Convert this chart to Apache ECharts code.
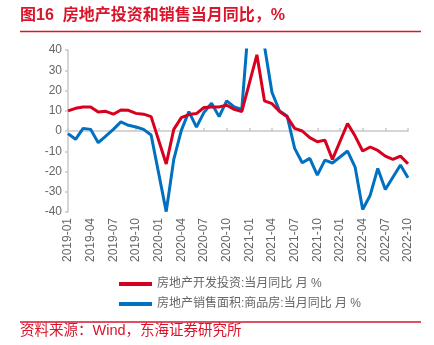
<!DOCTYPE html>
<html><head><meta charset="utf-8">
<script src="https://cdn.jsdelivr.net/npm/echarts@6/dist/echarts.min.js"></script>
<style>html,body{margin:0;padding:0;background:#fff}#c{width:434px;height:345px}</style>
</head><body><div id="c"></div>
<script>
const months = ["2019-01","2019-02","2019-03","2019-04","2019-05","2019-06","2019-07","2019-08","2019-09","2019-10","2019-11","2019-12",
"2020-01","2020-02","2020-03","2020-04","2020-05","2020-06","2020-07","2020-08","2020-09","2020-10","2020-11","2020-12",
"2021-01","2021-02","2021-03","2021-04","2021-05","2021-06","2021-07","2021-08","2021-09","2021-10","2021-11","2021-12",
"2022-01","2022-02","2022-03","2022-04","2022-05","2022-06","2022-07","2022-08","2022-09","2022-10"];
const investYoY = [9.9,11.2,11.9,11.9,9.4,9.7,8.3,10.4,10.2,8.7,8.3,7.1,
null,-16.3,0.8,6.6,8.1,8.6,11.6,11.9,11.9,12.7,10.7,9.6,
null,37.6,14.9,13.5,9.6,7.0,1.3,0.0,-3.3,-5.3,-4.5,-14.0,
null,3.7,-2.5,-9.9,-7.9,-9.6,-12.4,-14.0,-12.4,-16.2];
const salesAreaYoY = [-1.3,-4.1,1.3,0.8,-5.8,-2.5,0.8,4.5,2.8,2.0,0.8,-2.0,
null,-39.8,-14.0,0.3,9.6,1.9,9.2,13.7,7.1,14.9,11.9,10.7,
null,104.9,42.0,19.0,9.9,7.4,-8.6,-15.7,-13.5,-21.8,-14.4,-15.8,
null,-9.9,-17.8,-38.8,-31.7,-18.5,-28.9,-22.8,-16.8,-23.1];
const seriesNames = ["房地产开发投资:当月同比 月 %","房地产销售面积:商品房:当月同比 月 %"];
const titleText = "图16  房地产投资和销售当月同比，%";
const sourceText = "资料来源：Wind，东海证券研究所";

const RED = "#D7001E", BLUE = "#0070C0", TRED = "#D9142B";
const FONT = "'Liberation Sans','Noto Sans CJK SC',sans-serif";
const chart = echarts.init(document.getElementById('c'), null, {renderer:'canvas'});
chart.setOption({
  animation:false,
  textStyle:{fontFamily:FONT},
  grid:{left:68,right:26,top:50,bottom:133},
  xAxis:[{
    type:'category', data:months, boundaryGap:false, position:'bottom',
    axisLine:{show:false, onZero:false}, axisTick:{show:false},
    axisLabel:{rotate:90, interval:2, color:'#666666', fontSize:12, margin:6, fontFamily:FONT}
  },{
    type:'category', data:months, boundaryGap:false,
    axisLine:{show:true, onZero:true, lineStyle:{color:'#C8C8C8', width:1.5}},
    axisTick:{show:true, interval:2, length:3, lineStyle:{color:'#C8C8C8', width:1.5}},
    axisLabel:{show:false}
  }],
  yAxis:{
    type:'value', min:-40, max:40, interval:10,
    axisLine:{show:true, lineStyle:{color:'#C8C8C8', width:1.5}},
    axisTick:{show:true, length:3, lineStyle:{color:'#C8C8C8', width:1.5}},
    splitLine:{show:false},
    axisLabel:{color:'#666666', fontSize:12, margin:6, fontFamily:FONT}
  },
  legend:{
    orient:'vertical', left:114, top:273, itemWidth:33, itemHeight:4, itemGap:8, icon:'rect',
    textStyle:{color:'#666666', fontSize:12, fontFamily:FONT},
    data:seriesNames
  },
  series:[
    {name:seriesNames[0], type:'line', data:investYoY, xAxisIndex:0, symbol:'none', connectNulls:true,
     lineStyle:{color:RED, width:3}, itemStyle:{color:RED}, z:3},
    {name:seriesNames[1], type:'line', data:salesAreaYoY, xAxisIndex:0, symbol:'none', connectNulls:true,
     lineStyle:{color:BLUE, width:3}, itemStyle:{color:BLUE}, z:2}
  ],
  graphic:[
    {type:'text', left:20, top:8, style:{text:titleText, fill:TRED, font:"bold 16px "+FONT}},
    {type:'line', shape:{x1:20,y1:31.5,x2:421,y2:31.5}, style:{stroke:TRED, lineWidth:1.5}},
    {type:'line', shape:{x1:20,y1:322,x2:421,y2:322}, style:{stroke:TRED, lineWidth:1.5}},
    {type:'text', left:20, top:324, style:{text:sourceText, fill:TRED, font:"14.5px "+FONT}}
  ]
});
</script></body></html>
